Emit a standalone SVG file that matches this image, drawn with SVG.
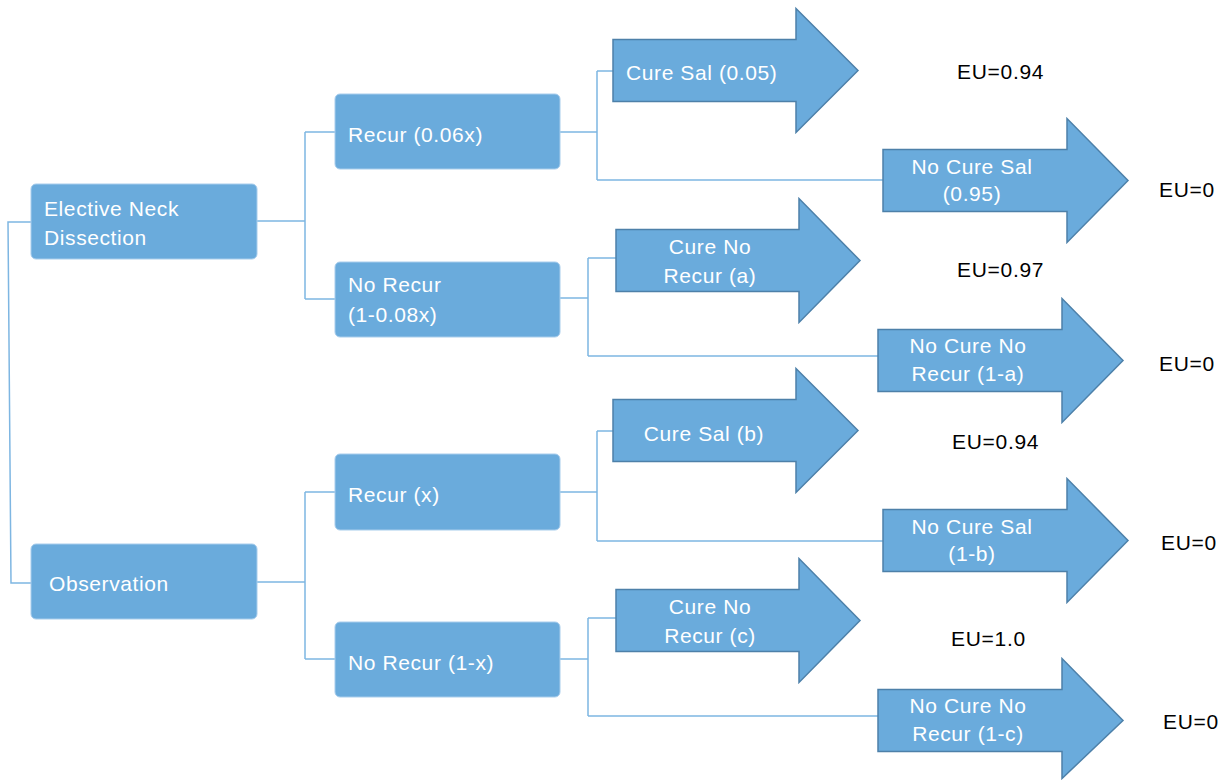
<svg xmlns="http://www.w3.org/2000/svg" width="1226" height="780" viewBox="0 0 1226 780">
<style>
.box{fill:#6aabdc;stroke:#a8cdec;stroke-width:1}
.arr{fill:#6aabdc;stroke:#4d80a9;stroke-width:1.5;stroke-linejoin:miter}
.t{font-family:"Liberation Sans",Arial,sans-serif;font-size:21px;fill:#ffffff;letter-spacing:0.6px}
.c{text-anchor:middle}
.eu{font-family:"Liberation Sans",Arial,sans-serif;font-size:21px;fill:#000000;letter-spacing:0.7px}
.ln{fill:none;stroke:#7eb6e2;stroke-width:1.5}
</style>
<rect width="1226" height="780" fill="#ffffff"/>
<g id="connectors">
<path class="ln" d="M31,222 H8 L11,583 H31"/>
<path class="ln" d="M257,221 H305 M305,132 V299 M305,132 H335 M305,299 H335"/>
<path class="ln" d="M257,582 H305 M305,492 V659 M305,492 H335 M305,659 H335"/>
<path class="ln" d="M560,132 H597 M597,71 V180 M597,71 H613 M597,180 H883"/>
<path class="ln" d="M560,298 H588 M588,258 V356 M588,258 H616 M588,356 H878"/>
<path class="ln" d="M560,492 H597 M597,431 V541 M597,431 H613 M597,541 H883"/>
<path class="ln" d="M560,659 H588 M588,618 V716 M588,618 H616 M588,716 H878"/>
</g>
<g id="end">
<rect class="box" x="31" y="184" width="226" height="75" rx="5"/>
<text class="t" x="44" y="216">Elective Neck</text>
<text class="t" x="44" y="245">Dissection</text>
</g>
<g id="obs">
<rect class="box" x="31" y="544" width="226" height="75" rx="5"/>
<text class="t" x="49" y="591">Observation</text>
</g>
<g id="recur1">
<rect class="box" x="335" y="94" width="225" height="75" rx="5"/>
<text class="t" x="348" y="142">Recur (0.06x)</text>
</g>
<g id="norecur1">
<rect class="box" x="335" y="262" width="225" height="75" rx="5"/>
<text class="t" x="348" y="292">No Recur</text>
<text class="t" x="348" y="322">(1-0.08x)</text>
</g>
<g id="recur2">
<rect class="box" x="335" y="454" width="225" height="76" rx="5"/>
<text class="t" x="348" y="502">Recur (x)</text>
</g>
<g id="norecur2">
<rect class="box" x="335" y="622" width="225" height="75" rx="5"/>
<text class="t" x="348" y="670">No Recur (1-x)</text>
</g>
<g id="a1">
<path class="arr" d="M613,39.5 H796 V8.5 L858,70.5 L796,132.5 V101.5 H613 Z"/>
<text class="t" x="626" y="80">Cure Sal (0.05)</text>
</g>
<g id="a2">
<path class="arr" d="M883,149.5 H1067 V118.5 L1128,180.5 L1067,242.5 V211.5 H883 Z"/>
<text class="t c" x="972" y="174">No Cure Sal</text>
<text class="t c" x="972" y="201">(0.95)</text>
</g>
<g id="a3">
<path class="arr" d="M616,229.5 H799 V198.5 L860,260.5 L799,322.5 V291.5 H616 Z"/>
<text class="t c" x="710" y="254">Cure No</text>
<text class="t c" x="710" y="283">Recur (a)</text>
</g>
<g id="a4">
<path class="arr" d="M878,329.5 H1062 V298.5 L1123,360.5 L1062,422.5 V391.5 H878 Z"/>
<text class="t c" x="968" y="353">No Cure No</text>
<text class="t c" x="968" y="381">Recur (1-a)</text>
</g>
<g id="a5">
<path class="arr" d="M613,399.5 H796 V368.5 L858,430.5 L796,492.5 V461.5 H613 Z"/>
<text class="t c" x="704" y="441">Cure Sal (b)</text>
</g>
<g id="a6">
<path class="arr" d="M883,509.5 H1067 V478.5 L1128,540.5 L1067,602.5 V571.5 H883 Z"/>
<text class="t c" x="972" y="534">No Cure Sal</text>
<text class="t c" x="972" y="561">(1-b)</text>
</g>
<g id="a7">
<path class="arr" d="M616,589.5 H799 V558.5 L860,620.5 L799,682.5 V651.5 H616 Z"/>
<text class="t c" x="710" y="614">Cure No</text>
<text class="t c" x="710" y="643">Recur (c)</text>
</g>
<g id="a8">
<path class="arr" d="M878,689.5 H1062 V658.5 L1123,720.5 L1062,778.5 V751.5 H878 Z"/>
<text class="t c" x="968" y="713">No Cure No</text>
<text class="t c" x="968" y="741">Recur (1-c)</text>
</g>
<g id="eu">
<text class="eu" x="957" y="79">EU=0.94</text>
<text class="eu" x="1159" y="197">EU=0</text>
<text class="eu" x="957" y="277">EU=0.97</text>
<text class="eu" x="1159" y="371">EU=0</text>
<text class="eu" x="952" y="449">EU=0.94</text>
<text class="eu" x="1161" y="550">EU=0</text>
<text class="eu" x="951" y="646">EU=1.0</text>
<text class="eu" x="1163" y="729">EU=0</text>
</g>
</svg>
